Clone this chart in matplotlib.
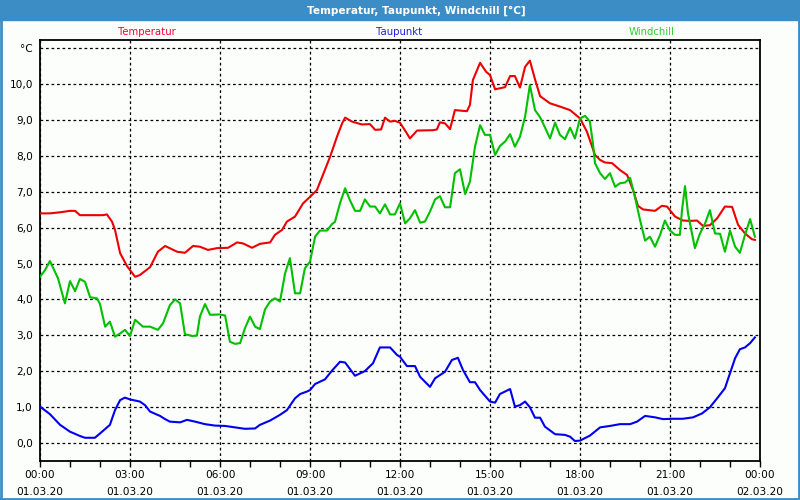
import matplotlib.pyplot as plt
from matplotlib.patches import Rectangle
from matplotlib.lines import Line2D

# hours since 01.03.20 00:00
temp_t = [0.0, 0.33, 0.67, 1.0, 1.17, 1.33, 2.1, 2.23, 2.4, 2.5, 2.67, 2.9, 3.17, 3.33, 3.67, 3.93,
          4.17, 4.57, 4.83, 5.1, 5.33, 5.6, 5.9, 6.27, 6.57, 6.77, 7.07, 7.33, 7.67, 7.83, 8.07, 8.23,
          8.5, 8.77, 9.0, 9.23, 9.43, 9.67, 9.9, 10.07, 10.17, 10.4, 10.73, 11.0, 11.17, 11.37, 11.5,
          11.67, 11.83, 12.0, 12.23, 12.33, 12.57, 13.1, 13.23, 13.33, 13.5, 13.67, 13.83, 14.23,
          14.33, 14.43, 14.67, 14.87, 15.0, 15.17, 15.5, 15.67, 15.83, 16.0, 16.17, 16.33, 16.5,
          16.67, 17.0, 17.33, 17.67, 18.0, 18.23, 18.5, 18.67, 18.83, 19.07, 19.33, 19.57, 19.77,
          19.93, 20.1, 20.5, 20.73, 20.9, 21.17, 21.43, 21.67, 21.9, 22.1, 22.33, 22.57, 22.83,
          23.07, 23.27, 23.5, 23.73, 23.83]
temp = [6.40, 6.40, 6.43, 6.47, 6.47, 6.35, 6.35, 6.37, 6.17, 5.94, 5.29, 4.93, 4.63, 4.68, 4.90, 5.33,
        5.49, 5.33, 5.30, 5.49, 5.47, 5.38, 5.43, 5.44, 5.59, 5.56, 5.44, 5.55, 5.59, 5.80, 5.94, 6.17,
        6.31, 6.68, 6.86, 7.05, 7.47, 7.98, 8.54, 8.91, 9.07, 8.96, 8.88, 8.89, 8.73, 8.74, 9.07,
        8.96, 8.98, 8.93, 8.63, 8.49, 8.71, 8.72, 8.74, 8.94, 8.91, 8.75, 9.28, 9.25,
        9.42, 10.12, 10.60, 10.35, 10.26, 9.86, 9.92, 10.23, 10.23, 9.91, 10.49, 10.66, 10.14,
        9.67, 9.47, 9.38, 9.28, 9.05, 8.68, 8.03, 7.89, 7.82, 7.80, 7.61, 7.47, 7.05,
        6.61, 6.51, 6.47, 6.61, 6.59, 6.31, 6.20, 6.19, 6.20, 6.05, 6.07, 6.26, 6.59,
        6.58, 6.08, 5.84, 5.68, 5.66]

dew_t = [0.0, 0.33, 0.67, 1.0, 1.33, 1.5, 1.83, 2.0, 2.33, 2.5, 2.67, 2.83, 3.0, 3.33, 3.5, 3.67,
         4.0, 4.17, 4.33, 4.67, 4.9, 5.17, 5.5, 5.83, 6.17, 6.5, 6.83, 7.17, 7.33, 7.67, 8.0, 8.23,
         8.5, 8.67, 8.9, 9.0, 9.17, 9.5, 9.73, 10.0, 10.17, 10.5, 10.83, 11.1, 11.33, 11.67, 11.9,
         12.0, 12.23, 12.5, 12.67, 13.0, 13.17, 13.5, 13.73, 13.93, 14.1, 14.33, 14.5, 14.67, 15.0,
         15.17, 15.33, 15.67, 15.83, 16.0, 16.17, 16.33, 16.5, 16.67, 16.83, 17.17, 17.5, 17.67,
         17.83, 18.0, 18.33, 18.67, 19.0, 19.33, 19.67, 19.9, 20.17, 20.5, 20.77, 21.1, 21.43,
         21.77, 22.07, 22.33, 22.57, 22.83, 23.0, 23.17, 23.33, 23.5, 23.67, 23.83]
dew = [1.01, 0.80, 0.50, 0.31, 0.19, 0.14, 0.14, 0.26, 0.50, 0.91, 1.19, 1.26, 1.21, 1.15, 1.05, 0.87,
       0.75, 0.66, 0.59, 0.57, 0.64, 0.59, 0.52, 0.48, 0.47, 0.43, 0.39, 0.40, 0.50, 0.62, 0.78, 0.91,
       1.24, 1.36, 1.43, 1.47, 1.64, 1.77, 2.01, 2.26, 2.24, 1.87, 2.00, 2.22, 2.66, 2.66, 2.45,
       2.40, 2.14, 2.14, 1.84, 1.56, 1.80, 1.98, 2.31, 2.37, 2.03, 1.69, 1.69, 1.47, 1.15,
       1.12, 1.36, 1.50, 1.01, 1.05, 1.15, 0.99, 0.70, 0.70, 0.45, 0.24, 0.22, 0.17,
       0.05, 0.06, 0.20, 0.43, 0.47, 0.52, 0.52, 0.59, 0.75, 0.71, 0.66, 0.67, 0.67,
       0.71, 0.82, 0.99, 1.24, 1.52, 1.94, 2.36, 2.61, 2.66, 2.78, 2.94]

chill_t = [0.0, 0.17, 0.33, 0.6, 0.83, 1.0, 1.17, 1.33, 1.5, 1.67, 1.9, 2.0, 2.17, 2.33, 2.5, 2.67,
           2.83, 3.0, 3.17, 3.43, 3.67, 3.93, 4.1, 4.33, 4.5, 4.67, 4.83, 5.07, 5.23, 5.33, 5.5, 5.67,
           6.0, 6.17, 6.33, 6.5, 6.67, 6.83, 7.0, 7.17, 7.33, 7.5, 7.67, 7.83, 8.0, 8.17, 8.33, 8.5,
           8.67, 8.83, 9.0, 9.17, 9.33, 9.57, 9.73, 9.83, 10.0, 10.17, 10.33, 10.5, 10.67, 10.83,
           11.0, 11.17, 11.33, 11.5, 11.67, 11.83, 12.0, 12.17, 12.33, 12.5, 12.67, 12.83, 13.0,
           13.17, 13.33, 13.5, 13.67, 13.83, 14.0, 14.17, 14.33, 14.5, 14.67, 14.83, 15.0, 15.17,
           15.33, 15.5, 15.67, 15.83, 16.0, 16.17, 16.33, 16.5, 16.67, 16.83, 17.0, 17.17, 17.33,
           17.5, 17.67, 17.83, 18.0, 18.17, 18.33, 18.43, 18.5, 18.67, 18.83, 19.0, 19.17, 19.33,
           19.5, 19.67, 19.83, 20.0, 20.17, 20.33, 20.5, 20.67, 20.83, 21.0, 21.17, 21.33, 21.4,
           21.5, 21.6, 21.83, 22.0, 22.17, 22.33, 22.5, 22.67, 22.83, 23.0, 23.17, 23.33, 23.5,
           23.67, 23.83]
chill = [4.63, 4.82, 5.07, 4.59, 3.89, 4.51, 4.23, 4.57, 4.49, 4.06, 4.03, 3.87, 3.24, 3.38, 2.96, 3.05,
         3.15, 2.98, 3.43, 3.24, 3.24, 3.15, 3.33, 3.84, 4.00, 3.89, 3.03, 2.98, 2.99, 3.52, 3.87, 3.57,
         3.58, 3.55, 2.82, 2.76, 2.78, 3.19, 3.52, 3.24, 3.17, 3.72, 3.94, 4.03, 3.94, 4.73, 5.15, 4.17,
         4.17, 4.87, 5.05, 5.75, 5.92, 5.92, 6.10, 6.16, 6.68, 7.10, 6.77, 6.47, 6.47, 6.79,
         6.59, 6.59, 6.40, 6.65, 6.37, 6.37, 6.68, 6.12, 6.26, 6.49, 6.14, 6.17, 6.45,
         6.79, 6.88, 6.57, 6.57, 7.52, 7.63, 6.94, 7.28, 8.26, 8.86, 8.59, 8.59, 8.03,
         8.28, 8.40, 8.61, 8.26, 8.54, 9.10, 9.98, 9.28, 9.08, 8.80, 8.49, 8.93, 8.59,
         8.47, 8.79, 8.49, 9.05, 9.12, 8.96, 8.35, 7.80, 7.52, 7.36, 7.52, 7.14, 7.24,
         7.26, 7.39, 6.86, 6.22, 5.64, 5.75, 5.47, 5.80, 6.20, 5.92, 5.80, 5.80, 6.49,
         7.16, 6.40, 5.43, 5.84, 6.12, 6.49, 5.84, 5.83, 5.33, 5.92, 5.47, 5.30, 5.80,
         6.24, 5.75]

xticks = [0, 3, 6, 9, 12, 15, 18, 21, 24]
xlabels = ["00:00\n01.03.20", "03:00\n01.03.20", "06:00\n01.03.20", "09:00\n01.03.20",
           "12:00\n01.03.20", "15:00\n01.03.20", "18:00\n01.03.20", "21:00\n01.03.20",
           "00:00\n02.03.20"]
yticks = [0, 1, 2, 3, 4, 5, 6, 7, 8, 9, 10, 11]
ylabels = ["0,0", "1,0", "2,0", "3,0", "4,0", "5,0", "6,0", "7,0", "8,0", "9,0", "10,0", "°C"]

blue = "#3c8dc5"

fig = plt.figure(figsize=(8, 5), dpi=100, facecolor="#fcfefc")

# title bar and frame
fig.patches.append(Rectangle((0, 0.96), 1, 0.04, transform=fig.transFigure, color=blue, zorder=0))
fig.add_artist(Line2D([0.001, 0.001], [0, 1], transform=fig.transFigure, color=blue, lw=2))
fig.add_artist(Line2D([0.999, 0.999], [0, 1], transform=fig.transFigure, color=blue, lw=2))
fig.add_artist(Line2D([0, 1], [0.002, 0.002], transform=fig.transFigure, color=blue, lw=2))
fig.text(0.521, 0.979, "Temperatur, Taupunkt, Windchill [°C]", color="white", fontsize=7.6,
         fontweight="bold", ha="center", va="center")

fig.text(0.184, 0.936, "Temperatur", color="#ff0030", fontsize=7.3, ha="center", va="center")
fig.text(0.499, 0.936, "Taupunkt", color="#2020e0", fontsize=7.3, ha="center", va="center")
fig.text(0.815, 0.936, "Windchill", color="#30d030", fontsize=7.3, ha="center", va="center")

ax = fig.add_axes([0.05, 0.078, 0.9, 0.842])
ax.set_facecolor("#fcfefc")

ax.plot(temp_t, temp, color="#ee0000", lw=1.5, zorder=3)
ax.plot(chill_t, chill, color="#00c000", lw=1.5, zorder=3)
ax.plot(dew_t, dew, color="#0000ee", lw=1.5, zorder=3)

ax.set_xlim(0, 24)
ax.set_ylim(-0.508, 11.236)

ax.set_xticks(xticks)
ax.set_xticklabels(xlabels, fontsize=7.6, linespacing=1.85)
ax.set_xticks(range(25), minor=True)
ax.set_yticks(yticks)
ax.set_yticklabels(ylabels, fontsize=7.6)
ax.tick_params(axis="x", which="both", length=4, width=1, direction="out", pad=2.5)
ax.tick_params(axis="y", length=0, pad=5)

ax.grid(True, color="black", linestyle=(0, (2.2, 2.2)), linewidth=0.9)
ax.set_axisbelow(True)
for s in ax.spines.values():
    s.set_linewidth(1.3)
    s.set_color("black")

plt.savefig("out.png", dpi=100, facecolor=fig.get_facecolor())
